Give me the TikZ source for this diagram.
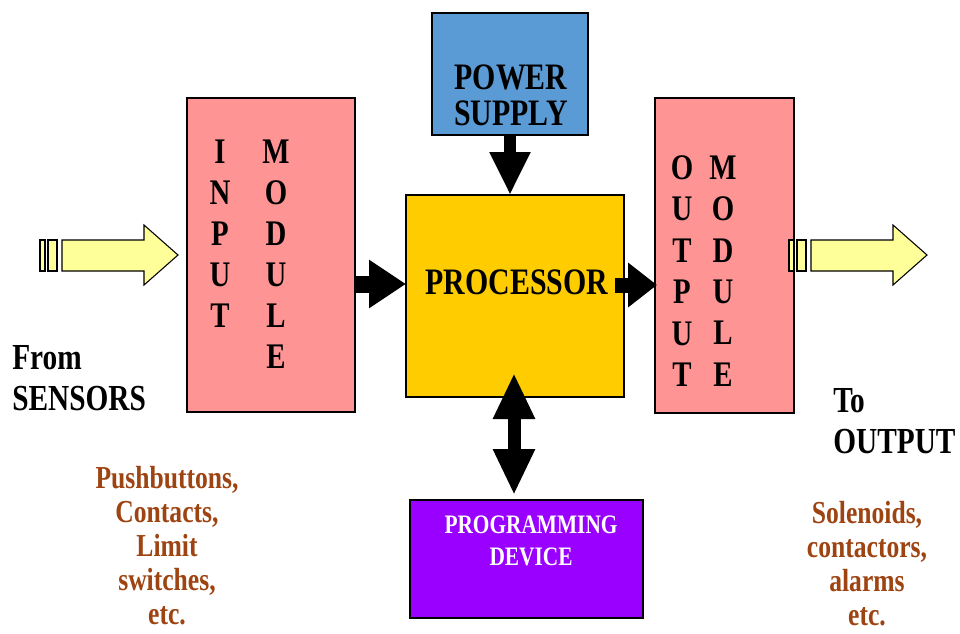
\documentclass[tikz,border=0pt]{standalone}
\usepackage{fontspec}
\setmainfont{Liberation Serif}[FakeStretch=0.8]
\usetikzlibrary{arrows.meta,calc}
\definecolor{modpink}{RGB}{255,148,148}
\definecolor{psblue}{RGB}{91,155,213}
\definecolor{procgold}{RGB}{255,204,0}
\definecolor{progviolet}{RGB}{153,0,255}
\definecolor{sigyellow}{RGB}{255,255,153}
\definecolor{devbrown}{RGB}{158,68,18}
\begin{document}
\begin{tikzpicture}[x=0.75pt,y=-0.75pt,
  blk/.style={draw=black,line width=1.6pt,inner sep=0pt,outer sep=0pt},
  txt/.style={font=\bfseries\fontsize{#1}{#1}\selectfont,inner sep=0pt,align=center},
  col/.style={font=\bfseries\fontsize{27}{30.75}\selectfont,inner sep=0pt,align=center},
  side/.style={font=\bfseries\fontsize{27.5}{31}\selectfont,inner sep=0pt,align=left,anchor=west},
  devs/.style={font=\bfseries\fontsize{24}{25.5}\selectfont,inner sep=0pt,align=center,text=devbrown},
  sigarrow/.pic={
    \begin{scope}[draw=black,fill=sigyellow,line width=0.8pt,line join=miter]
      \filldraw (-138,-15) rectangle (-133,16);
      \filldraw (-130,-15) rectangle (-121,16);
      \filldraw (-116,-15) -- (-34,-15) -- (-34,-30) -- (0,0) -- (-34,30) -- (-34,16) -- (-116,16) -- cycle;
    \end{scope}
  }
]
\clip (0,0) rectangle (960,633);

% blocks
\node[blk,fill=psblue,minimum width=117pt,minimum height=91.5pt] (pow) at (510,74) {};
\node[blk,fill=modpink,minimum width=126pt,minimum height=235.5pt] (inm) at (271,255) {};
\node[blk,fill=procgold,minimum width=163.5pt,minimum height=151.5pt] (proc) at (515,296) {};
\node[blk,fill=modpink,minimum width=104.25pt,minimum height=236.25pt] (outm) at (724.5,255.5) {};
\node[blk,fill=progviolet,minimum width=174.75pt,minimum height=88.5pt] (prog) at (526.5,559) {};

% signal arrows entering and leaving the modules
\coordinate (sigin) at ($(inm.west)+(-9,0)$);
\coordinate (sigout) at ($(outm.east)+(133,-0.5)$);
\pic at (sigin) {sigarrow};
\pic at (sigout) {sigarrow};

% block labels
\node[txt=28,font=\bfseries\fontsize{28}{27}\selectfont] (powlbl) at (511,95) {POWER\\SUPPLY};
\node[txt=28] (proclbl) at (517,282) {PROCESSOR};
\node[txt=20,font=\bfseries\fontsize{20}{24}\selectfont,text=white] (proglbl) at (531,541) {PROGRAMMING\\DEVICE};
\node[col] (inA) at (220,234) {I\\N\\P\\U\\T};
\node[col] (inB) at (276,254.5) {M\\O\\D\\U\\L\\E};
\node[col,font=\bfseries\fontsize{27}{31.1}\selectfont] (outA) at (682,271) {O\\U\\T\\P\\U\\T};
\node[col,font=\bfseries\fontsize{27}{31.1}\selectfont] (outB) at (723,271) {M\\O\\D\\U\\L\\E};

% connectors
\coordinate (inrow) at (0,284);
\coordinate (outrow) at (0,285);
\draw[line width=9pt,-{Triangle[width=28.5pt,length=32.25pt]}] (pow.south) -- (proc.north -| pow.south);
\draw[line width=12.75pt,-{Triangle[width=34.5pt,length=27.75pt]}] (inm.east |- inrow) -- (proc.west |- inrow);
\draw[line width=11.25pt,-{Triangle[width=32.25pt,length=21.75pt]}] ($(proc.east |- outrow)+(-9,0)$) -- ($(outm.west |- outrow)+(2,0)$);
\draw[line width=9.75pt,{Triangle[width=29.25pt,length=34.5pt]}-{Triangle[width=29.25pt,length=34.5pt]}] ($(proc.south)+(-1,-24)$) -- ($(prog.north)+(-12.5,-5)$);

% side captions
\node[side] (from) at (12,378) {From\\SENSORS};
\node[side] (to) at (833,421) {To\\OUTPUT};
\node[devs] (indev) at (167,546) {Pushbuttons,\\Contacts,\\Limit\\switches,\\etc.};
\node[devs] (outdev) at (867,564) {Solenoids,\\contactors,\\alarms\\etc.};
\end{tikzpicture}
\end{document}
